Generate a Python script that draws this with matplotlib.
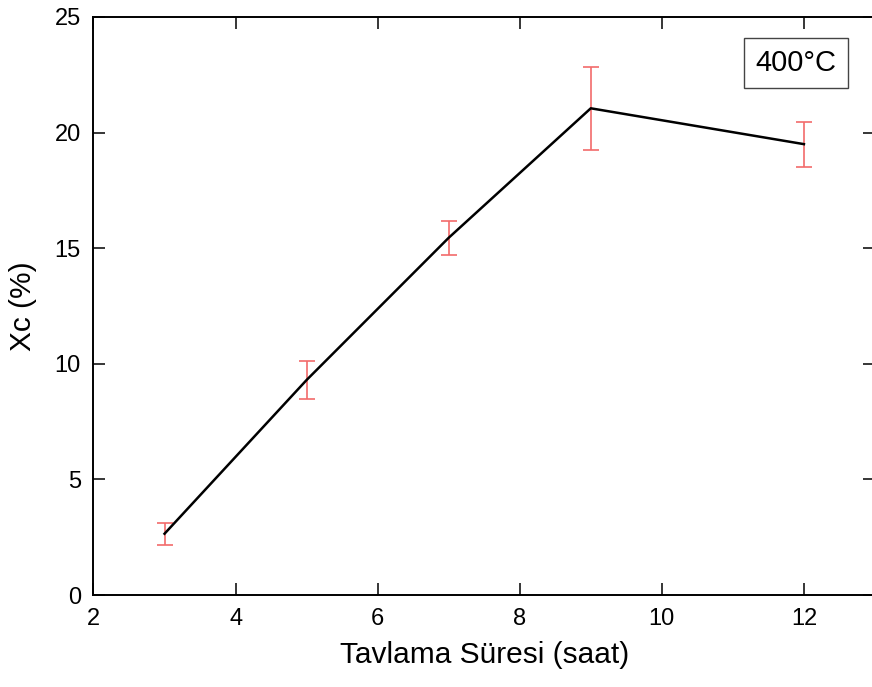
import matplotlib
matplotlib.use("Agg")
import matplotlib.pyplot as plt

plt.rcParams['font.family'] = ['Liberation Sans', 'DejaVu Sans']

# annealing time (h), crystallinity (%) and its error
hours = [3, 5, 7, 9, 12]
xc = [2.65, 9.3, 15.45, 21.05, 19.5]
xc_err = [0.47, 0.82, 0.73, 1.8, 0.97]

fig = plt.figure(figsize=(8.72, 6.87), dpi=100)
ax = fig.add_axes([0.1072, 0.1339, 0.8962, 0.8414])

ax.errorbar(hours, xc, yerr=xc_err, fmt='none', ecolor='#f26b6b',
            elinewidth=1.2, capsize=5.5, capthick=1.2, zorder=2)
ax.plot(hours, xc, color='black', lw=1.8, zorder=3)

ax.set_xlim(2, 13)
ax.set_ylim(0, 25)
ax.set_xticks([2, 4, 6, 8, 10, 12])
ax.set_yticks([0, 5, 10, 15, 20, 25])
ax.tick_params(direction='in', length=8.5, width=1.1, labelsize=17,
               top=True, right=True, pad=9)
for s in ax.spines.values():
    s.set_linewidth(1.4)

ax.set_xlabel("Tavlama Süresi (saat)", fontsize=21.5, labelpad=8)
ax.set_ylabel("Xc (%)", fontsize=21.5, labelpad=13)

# label box, placed in pixel coordinates (origin bottom-left)
ax.text(796, 687 - 63, "400°C", transform=None, fontsize=21, ha='center',
        va='center',
        bbox=dict(boxstyle='square,pad=0.38', fc='white', ec='#444444', lw=1.0))

fig.savefig("out.png", dpi=100)
